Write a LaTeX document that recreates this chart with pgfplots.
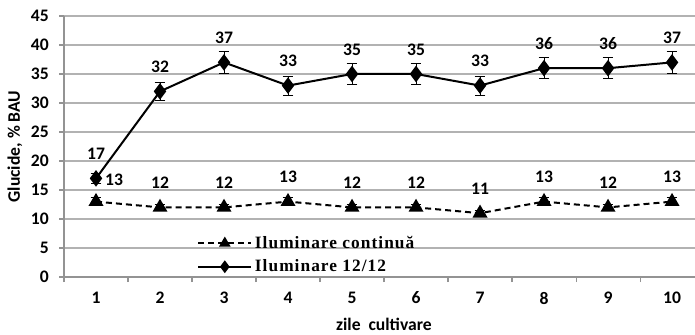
\documentclass[border=0pt]{standalone}
\usepackage{fontspec}
\setmainfont{Carlito}
\newfontfamily\timesfont[LetterSpace=6]{Liberation Serif}
\usepackage{pgfplots}
\pgfplotsset{compat=1.18}
\newcommand\cf{\fontsize{13.2}{15}\selectfont\bfseries}
\begin{document}
\begin{tikzpicture}
\useasboundingbox (0,0) rectangle (521.25pt,251.25pt);
\begin{axis}[
  at={(48pt,43.5pt)}, anchor=south west,
  scale only axis, width=473.25pt, height=195.75pt,
  xmin=0.5, xmax=10.359, ymin=0, ymax=45,
  axis x line*=bottom, axis y line*=left,
  axis line style={-, draw=gray!85, line width=0.8pt},
  /pgf/number format/assume math mode=true,
  xtick={0.5,1.5,...,9.5}, xticklabels={1,2,3,4,5,6,7,8,9,10},
  xticklabel style={font=\cf, anchor=center, xshift=24pt, yshift=-12pt},
  ytick={0,5,...,45},
  yticklabel style={font=\cf, anchor=east, inner sep=0pt, xshift=-7.5pt},
  tick align=outside, major tick length=3.75pt,
  tick style={draw=gray!85, line width=0.8pt},
  ymajorgrids, grid style={draw=gray!60, line width=0.8pt},
  every axis y label/.style={at={(axis description cs:-0.0777,0.5)}, rotate=90, anchor=center, font=\cf},
  every axis x label/.style={at={(axis description cs:0.507,-0.181)}, anchor=center, font=\cf},
  ylabel={Glucide, \% BAU},
  xlabel={zile\hspace{0.45em}cultivare},
  legend style={draw=none, fill=none, at={(axis description cs:0.2108,0.0843)}, anchor=west,
    inner sep=0pt, font=\timesfont\bfseries\fontsize{13}{14}\selectfont, cells={anchor=west}, row sep=3pt},
  legend image code/.code={\draw[mark repeat=2, mark phase=2, #1, mark size=3.6pt] plot coordinates {(0pt,0pt) (19.9pt,0pt) (39.75pt,0pt)};},
  label nodes/.style={nodes near coords, every node near coord/.append style={font=\cf, anchor=center, text=black, yshift=18.5pt}},
]
% Iluminare continua
\addplot[black, line width=1.5pt, dash pattern=on 4.5pt off 3pt, mark=triangle*, mark size=5pt,
  mark options={solid},
  error bars/.cd, y dir=both, y fixed relative=0.05,
  error bar style={solid, line width=0.6pt},
  error mark options={rotate=90, mark size=4pt, line width=0.6pt, solid}]
  coordinates {(1,13) (2,12) (3,12) (4,13) (5,12) (6,12) (7,11) (8,13) (9,12) (10,13)};
% Iluminare 12/12
\addplot[black, line width=1.5pt, mark=diamond*, mark size=5pt,
  error bars/.cd, y dir=both, y fixed relative=0.05,
  error bar style={line width=0.6pt},
  error mark options={rotate=90, mark size=4pt, line width=0.6pt}]
  coordinates {(1,17) (2,32) (3,37) (4,33) (5,35) (6,35) (7,33) (8,36) (9,36) (10,37)};
% labels
\addplot[draw=none, forget plot, label nodes] coordinates {(2,12) (3,12) (4,13) (5,12) (6,12) (7,11) (8,13) (9,12) (10,13)};
\addplot[draw=none, forget plot, nodes near coords, every node near coord/.append style={font=\cf, anchor=center, text=black, xshift=13.5pt, yshift=16.5pt}] coordinates {(1,13)};
\addplot[draw=none, forget plot, label nodes] coordinates {(1,17) (2,32) (3,37) (4,33) (5,35) (6,35) (7,33) (8,36) (9,36) (10,37)};
\legend{Iluminare continuă, Iluminare 12/12}
\end{axis}
\end{tikzpicture}
\end{document}
